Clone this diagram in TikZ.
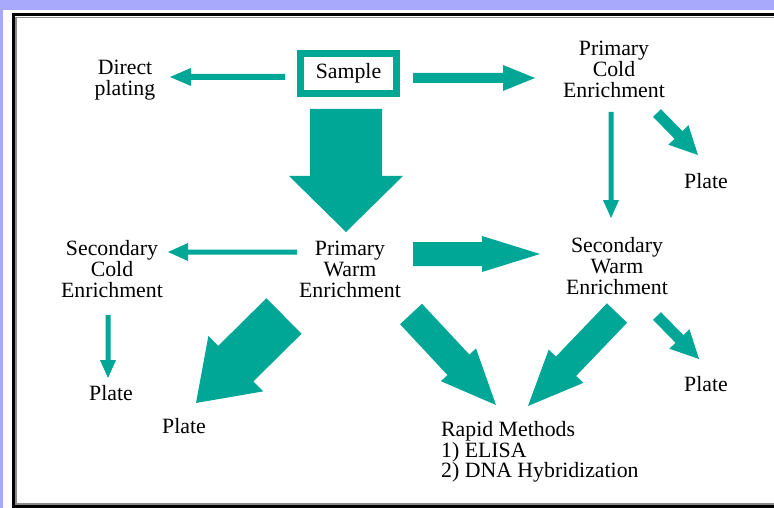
\documentclass[tikz,border=0pt]{standalone}
\usepackage{fontspec}
\setmainfont{Liberation Serif}
\usetikzlibrary{calc}
\definecolor{tealA}{RGB}{0,166,150}
\definecolor{lavA}{RGB}{168,168,252}
% tail, tip, shaft half width, head half width, head length
\newcommand{\blockarr}[5]{%
  \coordinate (ba-c) at ($(#2)!#5!(#1)$);
  \fill[tealA] ($(#1)!#3!90:(#2)$) -- ($(ba-c)!#3!-90:(#1)$) -- ($(ba-c)!#4!-90:(#1)$)
    -- (#2) -- ($(ba-c)!#4!90:(#1)$) -- ($(ba-c)!#3!90:(#1)$) -- ($(#1)!#3!-90:(#2)$) -- cycle;
}
\begin{document}
\begin{tikzpicture}[x=1pt,y=-1pt,
  lbl/.style={font=\fontsize{21.8}{21}\selectfont, align=center, inner sep=0pt},
  lbll/.style={font=\fontsize{21.8}{20.5}\selectfont, align=left, inner sep=0pt}]
\useasboundingbox (0,0) rectangle (774,508);
% background and frame
\fill[lavA] (0,0) rectangle (774,508);
\fill[white] (3,10) rectangle (774,508);
\draw[black!45, line width=1.5pt] (16,17.5) rectangle (790,504);
\draw[black, line width=3pt] (13,14.5) rectangle (790,506.5);
% nodes
\node[lbl] (direct) at (125,80) {Direct\\plating};
\node[lbl, draw=tealA, line width=7pt, minimum width=96pt, minimum height=40pt] (sample) at (348.5,73.5) {Sample};
\node[lbl] (pcold) at (614,69) {Primary\\Cold\\Enrichment};
\node[lbl] (plate1) at (706,181) {Plate};
\node[lbl] (pwarm) at (350,269) {Primary\\Warm\\Enrichment};
\node[lbl] (swarm) at (617,266) {Secondary\\Warm\\Enrichment};
\node[lbl] (scold) at (112,269) {Secondary\\Cold\\Enrichment};
\node[lbl] (plate2) at (111,393) {Plate};
\node[lbl] (plate3) at (184,426) {Plate};
\node[lbl] (plate4) at (706,384) {Plate};
\node[lbll, anchor=west] (rapid) at (441,452) {Rapid Methods\\1) ELISA\\2) DNA Hybridization};
% arrow end points
\coordinate (a1s) at (285,77);  \coordinate (a1e) at (170,77);
\coordinate (a2s) at (413,78);  \coordinate (a2e) at (535,78);
\coordinate (a3s) at (346,109); \coordinate (a3e) at (346,232);
\coordinate (a4s) at (611,112); \coordinate (a4e) at (611,218);
\coordinate (a5s) at (657,113); \coordinate (a5e) at (698,155);
\coordinate (a6s) at (297,252); \coordinate (a6e) at (168,252);
\coordinate (a7s) at (413,254); \coordinate (a7e) at (540,254);
\coordinate (a8s) at (108,315); \coordinate (a8e) at (108,378);
\coordinate (a9s) at (284,316); \coordinate (a9e) at (196,403);
\coordinate (a10s) at (411,314); \coordinate (a10e) at (496,405);
\coordinate (a11s) at (617,313); \coordinate (a11e) at (528,406);
\coordinate (a12s) at (657,316); \coordinate (a12e) at (699,359);
% arrows
\blockarr{a1s}{a1e}{3pt}{9pt}{21pt}
\blockarr{a2s}{a2e}{5pt}{13pt}{32pt}
\blockarr{a3s}{a3e}{36pt}{57pt}{56pt}
\blockarr{a4s}{a4e}{2.5pt}{8pt}{18pt}
\blockarr{a5s}{a5e}{5.5pt}{14pt}{28pt}
\blockarr{a6s}{a6e}{2.5pt}{9pt}{20pt}
\blockarr{a7s}{a7e}{12pt}{18pt}{58pt}
\blockarr{a8s}{a8e}{2.5pt}{8pt}{18pt}
\blockarr{a9s}{a9e}{25pt}{39pt}{56pt}
\blockarr{a10s}{a10e}{15pt}{24pt}{55pt}
\blockarr{a11s}{a11e}{14pt}{24pt}{55pt}
\blockarr{a12s}{a12e}{5.5pt}{14pt}{28pt}
\end{tikzpicture}
\end{document}
